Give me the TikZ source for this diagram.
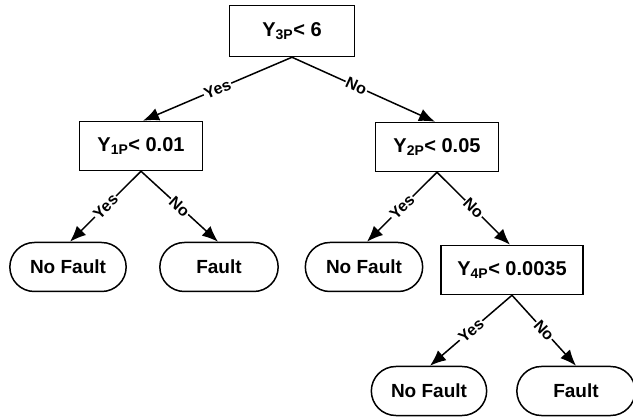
\documentclass[tikz,border=0pt]{standalone}
\usepackage{fontspec}
\setmainfont{Liberation Sans}
\usetikzlibrary{arrows.meta,shapes.misc}

\tikzset{
  testbox/.style={draw,line width=1.5pt,minimum height=49pt,inner sep=2pt,font=\fontsize{20}{22}\selectfont\bfseries},
  leafbox/.style={draw,rounded rectangle,line width=1.5pt,minimum height=49pt,minimum width=123pt,font=\fontsize{19}{22}\selectfont\bfseries},
  branch/.style={line width=1.5pt,-{Latex[length=16pt,width=13pt]}},
  answer/.style={sloped,fill=white,inner sep=1pt,font=\fontsize{16}{18}\selectfont\bfseries}
}

\begin{document}
\begin{tikzpicture}[x=1pt,y=-1pt]
    \useasboundingbox (0,0) rectangle (633,417);

    % Tests
    \node[testbox,minimum width=125pt,minimum height=51pt] (t3) at (292,31) {Y\textsubscript{3P}< 6};
    \node[testbox,minimum width=123pt] (t1) at (141,146) {Y\textsubscript{1P}< 0.01};
    \node[testbox,minimum width=123pt] (t2) at (437,147) {Y\textsubscript{2P}< 0.05};
    \node[testbox,minimum width=142pt] (t4) at (512,270) {Y\textsubscript{4P}< 0.0035};

    % Leaves
    \node[leafbox] (l1) at (68,267) {No Fault};
    \node[leafbox,minimum width=125pt] (l2) at (219,267) {Fault};
    \node[leafbox,minimum width=124pt] (l3) at (364,267) {No Fault};
    \node[leafbox,minimum width=122pt] (l4) at (429,391) {No Fault};
    \node[leafbox,minimum width=125pt] (l5) at (576,391) {Fault};

    % Branches
    \draw[branch] (t3.south) -- node[answer] {Yes} ([xshift=2pt]t1.north);
    \draw[branch] (t3.south) -- node[answer,pos=0.45] {No} ([xshift=-2pt]t2.north);
    \draw[branch] (t1.south) -- node[answer] {Yes} ([xshift=2pt]l1.north);
    \draw[branch] (t1.south) -- node[answer] {No} ([xshift=-1pt]l2.north);
    \draw[branch] (t2.south) -- node[answer] {Yes} ([xshift=3pt]l3.north);
    \draw[branch] (t2.south) -- node[answer] {No} ([xshift=-2pt]t4.north);
    \draw[branch] (t4.south) -- node[answer] {Yes} ([xshift=1pt]l4.north);
    \draw[branch] (t4.south) -- node[answer] {No} (l5.north);
\end{tikzpicture}
\end{document}
